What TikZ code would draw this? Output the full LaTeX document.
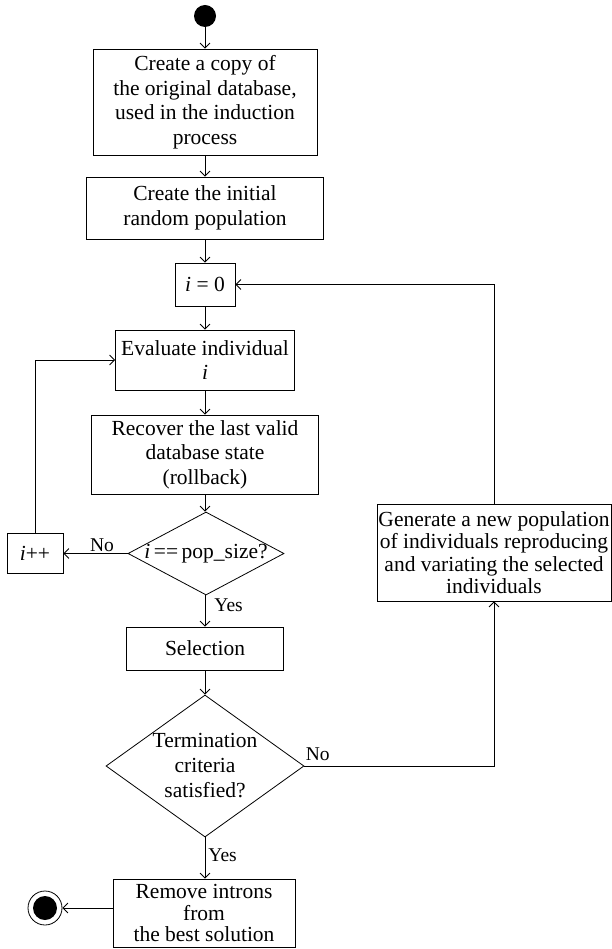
\documentclass[tikz,border=0pt]{standalone}
\usepackage{fontspec}
\setmainfont{Liberation Serif}
\usetikzlibrary{arrows.meta,shapes.geometric}
\begin{document}
\begin{tikzpicture}[x=1pt,y=-1pt,
  box/.style={draw, line width=0.8pt, align=center, inner sep=0pt, font=\fontsize{21.5}{24.5}\selectfont},
  dia/.style={draw, diamond, line width=0.8pt, inner sep=0pt},
  dtext/.style={align=center, inner sep=0pt, font=\fontsize{21.5}{25}\selectfont},
  arr/.style={-{Straight Barb[length=5pt,width=10pt]}, line width=0.8pt},
  lbl/.style={inner sep=0pt, font=\fontsize{19.5}{21}\selectfont}]
\useasboundingbox (0,0) rectangle (611,949);

\node[circle, fill, minimum size=22pt, inner sep=0pt] (start) at (205,16) {};
\node[box, minimum width=224pt, minimum height=106pt] (b1) at (205,102)
  {Create a copy of\\the original database,\\used in the induction\\process};
\node[box, minimum width=237pt, minimum height=62pt] (b2) at (205,208)
  {Create the initial\\random population};
\node[box, minimum width=60pt, minimum height=43pt] (i0) at (205,284.5)
  {\textit{i} = 0};
\node[box, minimum width=179pt, minimum height=60pt] (eval) at (205,360)
  {Evaluate individual\\\textit{i}};
\node[box, minimum width=227pt, minimum height=79pt] (rec) at (205,454.5)
  {Recover the last valid\\database state\\(rollback)};
\node[dia, minimum width=156pt, minimum height=83pt,
  label={[dtext]center:{\textit{i}\,==\,pop\_size?}}] (d1) at (206,553.5) {};
\node[box, minimum width=56pt, minimum height=40pt] (ipp) at (35,553.5)
  {\textit{i}++};
\node[box, minimum width=157pt, minimum height=43pt] (sel) at (205,648.5)
  {Selection};
\node[dia, minimum width=198pt, minimum height=142pt,
  label={[dtext]center:{Termination\\criteria\\satisfied?}}] (d2) at (205,766) {};
\node[box, minimum width=182pt, minimum height=68pt, font=\fontsize{21.5}{21.5}\selectfont] (rem) at (204,913)
  {Remove introns\\from\\the best solution};
\node[circle, draw, line width=0.8pt, minimum size=34pt, inner sep=0pt,
  path picture={\fill (path picture bounding box.center) circle (12pt);}] (end) at (45,908) {};
\node[box, minimum width=234pt, minimum height=97pt, font=\fontsize{21.5}{22.5}\selectfont] (gen) at (494,552.5)
  {Generate a new population\\of individuals reproducing\\and variating the selected\\individuals};

\draw[arr] (start) -- (b1);
\draw[arr] (b1) -- (b2);
\draw[arr] (b2) -- (i0);
\draw[arr] (i0) -- (eval);
\draw[arr] (eval) -- (rec);
\draw[arr] (rec.south) -- (rec.south |- d1.north);
\draw[arr] (d1.south -| sel.north) -- node[lbl, pos=0.32, anchor=west, xshift=9pt] {Yes} (sel.north);
\draw[arr] (d1.west) -- node[lbl, pos=0.4, anchor=base, yshift=2pt] {No} (ipp.east);
\draw[arr] (ipp.north) |- (eval.west);
\draw[arr] (sel) -- (d2);
\draw[arr] (d2.south) -- node[lbl, pos=0.43, anchor=west, xshift=3pt] {Yes} (d2.south |- rem.north);
\draw[arr] (rem.west |- end.east) -- (end.east);
\draw[arr] (d2.east) -| node[lbl, pos=0, anchor=base west, xshift=1pt, yshift=6pt] {No} (gen.south);
\draw[arr] (gen.north) |- (i0.east);
\end{tikzpicture}
\end{document}
